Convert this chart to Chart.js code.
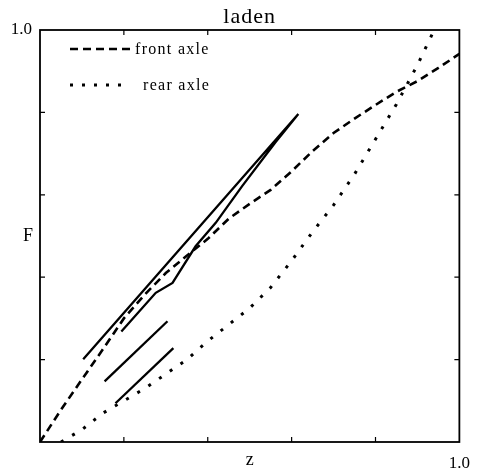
<!DOCTYPE html>
<html>
<head>
<meta charset="utf-8">
<script src="https://cdn.jsdelivr.net/npm/chart.js@4/dist/chart.umd.min.js"></script>
<style>
  html, body { margin: 0; padding: 0; background: #fff; }
  #wrap { width: 481px; height: 469px; position: relative; }
</style>
</head>
<body>
<div id="wrap"><canvas id="c" width="481" height="469"></canvas></div>
<script>
// ---- data ----
const titleText = 'laden';
const xAxisLabel = 'z';
const yAxisLabel = 'F';
const xTickValues = [0, 0.2, 0.4, 0.6, 0.8, 1.0];
const xTickLabels = ['', '', '', '', '', '1.0'];
const yTickValues = [0, 0.2, 0.4, 0.6, 0.8, 1.0];
const yTickLabels = ['', '', '', '', '', '1.0'];

const frontAxleX = [0, 0.05, 0.1, 0.15, 0.2, 0.25, 0.3, 0.35, 0.4, 0.45, 0.5, 0.55, 0.6, 0.65, 0.7, 0.75, 0.8, 0.85, 0.9, 0.95, 1.0];
const frontAxleY = [0, 0.078, 0.152, 0.225, 0.30, 0.358, 0.41, 0.452, 0.493, 0.542, 0.578, 0.612, 0.657, 0.706, 0.75, 0.785, 0.818, 0.85, 0.876, 0.908, 0.942];

const rearAxleX = [0.05, 0.1, 0.15, 0.2, 0.25, 0.3, 0.35, 0.4, 0.45, 0.5, 0.55, 0.6, 0.65, 0.7, 0.75, 0.8, 0.85, 0.9, 0.94];
const rearAxleY = [0, 0.03, 0.07, 0.10, 0.13, 0.165, 0.20, 0.245, 0.285, 0.325, 0.375, 0.44, 0.51, 0.575, 0.65, 0.735, 0.82, 0.915, 1.0];

const loopX = [0.103, 0.616, 0.561, 0.482, 0.419, 0.371, 0.316, 0.276, 0.194];
const loopY = [0.201, 0.796, 0.727, 0.621, 0.532, 0.475, 0.386, 0.362, 0.268];

const midSegX = [0.154, 0.304];
const midSegY = [0.147, 0.293];

const lowSegX = [0.180, 0.318];
const lowSegY = [0.094, 0.228];

const legendLabels = ['front axle', 'rear axle'];

// ---- helpers ----
const pts = (xs, ys) => xs.map((x, i) => ({ x: x, y: ys[i] }));
const serif = '"Liberation Serif", "DejaVu Serif", serif';

function tickLabel(values, labels, v) {
  for (let i = 0; i < values.length; i++) {
    if (Math.abs(values[i] - v) < 1e-9) return labels[i];
  }
  return '';
}

const framePlugin = {
  id: 'frame',
  afterDraw(chart) {
    const ctx = chart.ctx;
    const a = chart.chartArea;
    const xs = chart.scales.x, ys = chart.scales.y;
    ctx.save();
    ctx.strokeStyle = '#000';
    ctx.lineWidth = 1.8;
    ctx.strokeRect(a.left, a.top, a.right - a.left, a.bottom - a.top);
    // inward ticks
    ctx.lineWidth = 1.2;
    const tl = 5;
    xTickValues.forEach(v => {
      if (v <= 0 || v >= 1) return;
      const px = xs.getPixelForValue(v);
      ctx.beginPath();
      ctx.moveTo(px, a.bottom); ctx.lineTo(px, a.bottom - tl);
      ctx.moveTo(px, a.top); ctx.lineTo(px, a.top + tl);
      ctx.stroke();
    });
    yTickValues.forEach(v => {
      if (v <= 0 || v >= 1) return;
      const py = ys.getPixelForValue(v);
      ctx.beginPath();
      ctx.moveTo(a.left, py); ctx.lineTo(a.left + tl, py);
      ctx.moveTo(a.right, py); ctx.lineTo(a.right - tl, py);
      ctx.stroke();
    });
    // title and axis labels
    ctx.fillStyle = '#000';
    ctx.textAlign = 'center';
    ctx.textBaseline = 'middle';
    ctx.font = '22px ' + serif;
    ctx.letterSpacing = '1px';
    ctx.fillText(titleText, (a.left + a.right) / 2, 17);
    ctx.letterSpacing = '0px';
    ctx.font = '18px ' + serif;
    ctx.fillText(xAxisLabel, xs.getPixelForValue(0.5), 460);
    ctx.fillText(yAxisLabel, 28, ys.getPixelForValue(0.5));
    // legend
    const lx0 = a.left + 30;
    const rows = [
      { y: a.top + 19, dash: [8, 5], w: 2.6, len: 64, textX: 135 },
      { y: a.top + 55, dash: [3, 9], w: 3, len: 60, textX: 143 }
    ];
    rows.forEach((r, i) => {
      ctx.save();
      ctx.setLineDash(r.dash);
      ctx.lineWidth = r.w;
      ctx.beginPath();
      ctx.moveTo(lx0, r.y); ctx.lineTo(lx0 + r.len, r.y);
      ctx.stroke();
      ctx.restore();
      ctx.textAlign = 'left';
      ctx.font = '16px ' + serif;
      ctx.letterSpacing = '1.3px';
      ctx.fillText(legendLabels[i], r.textX, r.y + 1);
      ctx.letterSpacing = '0px';
    });
    ctx.restore();
  }
};

const common = { showLine: true, pointRadius: 0, borderColor: '#000', backgroundColor: '#000', fill: false, tension: 0 };

new Chart(document.getElementById('c'), {
  type: 'scatter',
  data: {
    datasets: [
      Object.assign({ label: legendLabels[0], data: pts(frontAxleX, frontAxleY), borderWidth: 2.6, borderDash: [8, 5] }, common),
      Object.assign({ label: legendLabels[1], data: pts(rearAxleX, rearAxleY), borderWidth: 3, borderDash: [3, 10] }, common),
      Object.assign({ label: 'loop', data: pts(loopX, loopY), borderWidth: 2.3 }, common),
      Object.assign({ label: 'mid', data: pts(midSegX, midSegY), borderWidth: 2.3 }, common),
      Object.assign({ label: 'low', data: pts(lowSegX, lowSegY), borderWidth: 2.3 }, common)
    ]
  },
  options: {
    responsive: false,
    animation: false,
    devicePixelRatio: 1,
    layout: { padding: { top: 30, right: 19, left: 0, bottom: 0 } },
    plugins: { legend: { display: false }, title: { display: false }, tooltip: { enabled: false } },
    scales: {
      x: {
        type: 'linear', min: 0, max: 1,
        afterBuildTicks: s => { s.ticks = xTickValues.map(v => ({ value: v })); },
        afterFit: s => { s.height = 27; },
        grid: { display: false, drawTicks: false, tickLength: 0 },
        border: { display: false },
        ticks: { autoSkip: false, maxRotation: 0, padding: 11, color: '#000',
                 font: { family: serif, size: 17 },
                 callback: v => tickLabel(xTickValues, xTickLabels, v) }
      },
      y: {
        type: 'linear', min: 0, max: 1,
        afterBuildTicks: s => { s.ticks = yTickValues.map(v => ({ value: v })); },
        afterFit: s => { s.width = 40; },
        grid: { display: false, drawTicks: false, tickLength: 0 },
        border: { display: false },
        ticks: { autoSkip: false, padding: 8, color: '#000',
                 font: { family: serif, size: 17 },
                 callback: v => tickLabel(yTickValues, yTickLabels, v) }
      }
    }
  },
  plugins: [framePlugin]
});
</script>
</body>
</html>
